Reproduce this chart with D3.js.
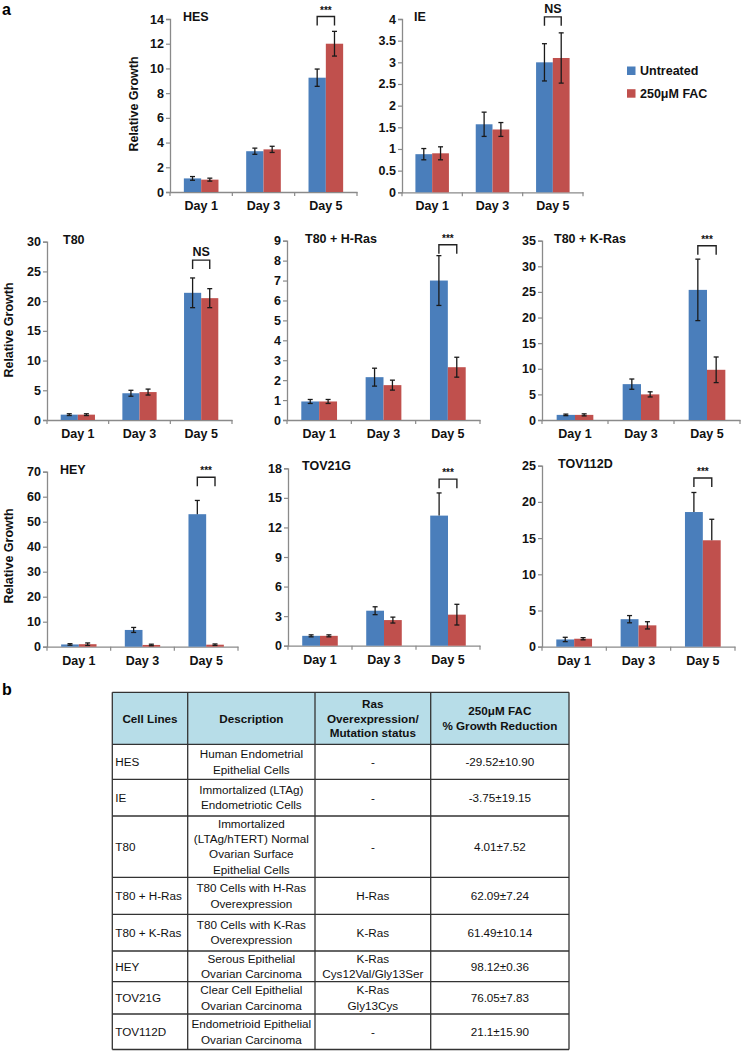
<!DOCTYPE html>
<html>
<head>
<meta charset="utf-8">
<script src="https://cdn.jsdelivr.net/npm/d3@7"></script>
<style>
  html, body { margin: 0; padding: 0; background: #fff; }
  svg { display: block; font-family: "Liberation Sans", Arial, Helvetica, sans-serif; }
</style>
</head>
<body>
<svg id="chart" width="741" height="1051"></svg>
<script>
// ---------------- DATA ----------------
const days = ["Day 1", "Day 3", "Day 5"];
const seriesNames = ["Untreated", "250\u03bcM FAC"];
const cellLines = ["HES", "IE", "T80", "T80 + H-Ras", "T80 + K-Ras", "HEY", "TOV21G", "TOV112D"];

const untreated    = [[1.1, 3.3, 9.25], [0.88, 1.57, 3.0], [0.9, 4.5, 21.4], [0.93, 2.15, 7.0], [1.0, 7.0, 25.4], [0.9, 6.7, 53.0], [1.0, 3.55, 13.2], [1.0, 3.8, 18.6]];
const untreatedErr = [[0.15, 0.25, 0.7], [0.13, 0.28, 0.43], [0.15, 0.5, 2.5], [0.1, 0.45, 1.25], [0.15, 1.0, 6.0], [0.3, 1.0, 5.5], [0.1, 0.4, 2.3], [0.3, 0.5, 2.7]];
const fac          = [[1.0, 3.45, 12.0], [0.9, 1.45, 3.1], [0.9, 4.7, 20.5], [0.93, 1.75, 2.65], [1.0, 5.0, 9.8], [1.0, 0.7, 0.8], [1.0, 2.6, 3.15], [1.1, 2.95, 14.7]];
const facErr       = [[0.12, 0.25, 1.0], [0.15, 0.16, 0.58], [0.15, 0.5, 1.6], [0.1, 0.25, 0.5], [0.2, 0.5, 2.5], [0.5, 0.3, 0.3], [0.1, 0.3, 1.05], [0.15, 0.5, 2.9]];
// error bars drawn only in the plus direction
const untreatedPlusOnly = [[0,0,0],[0,0,0],[0,0,0],[0,0,0],[0,0,0],[0,0,1],[0,0,1],[0,0,1]];
const facPlusOnly       = [[0,0,0],[0,0,0],[0,0,0],[0,0,0],[0,0,0],[0,0,0],[0,0,0],[0,0,1]];

const yMax  = [14, 4, 30, 9, 35, 70, 18, 25];
const yStep = [2, 0.5, 5, 1, 5, 10, 3, 5];
const sigLabels = ["***", "NS", "NS", "***", "***", "***", "***", "***"];
const sigLevel  = [14.2, 4.05, 26.9, 8.8, 34.0, 67.8, 16.9, 23.3];

// Table
const tableHeaders = [["Cell Lines"], ["Description"], ["Ras", "Overexpression/", "Mutation status"], ["250\u03bcM FAC", "% Growth Reduction"]];
const tableCellLines = ["HES", "IE", "T80", "T80 + H-Ras", "T80 + K-Ras", "HEY", "TOV21G", "TOV112D"];
const tableDescriptions = [
  ["Human Endometrial", "Epithelial Cells"],
  ["Immortalized (LTAg)", "Endometriotic Cells"],
  ["Immortalized", "(LTAg/hTERT) Normal", "Ovarian Surface", "Epithelial Cells"],
  ["T80 Cells with H-Ras", "Overexpression"],
  ["T80 Cells with K-Ras", "Overexpression"],
  ["Serous Epithelial", "Ovarian Carcinoma"],
  ["Clear Cell Epithelial", "Ovarian Carcinoma"],
  ["Endometrioid Epithelial", "Ovarian Carcinoma"]
];
const tableRas = [["-"], ["-"], ["-"], ["H-Ras"], ["K-Ras"], ["K-Ras", "Cys12Val/Gly13Ser"], ["K-Ras", "Gly13Cys"], ["-"]];
const tableReduction = ["-29.52\u00b110.90", "-3.75\u00b119.15", "4.01\u00b17.52", "62.09\u00b17.24", "61.49\u00b110.14", "98.12\u00b10.36", "76.05\u00b17.83", "21.1\u00b115.90"];

// ---------------- LAYOUT ----------------
const panelLayout = [
  {x0: 170, x1: 357, yTop: 19,    yBot: 192,   titleDx: 13, ylab: true,  labX: 138, labY: 104},
  {x0: 402, x1: 583, yTop: 19,    yBot: 192.3, titleDx: 12},
  {x0: 47,  x1: 232, yTop: 241.7, yBot: 420,   titleDx: 16, ylab: true,  labX: 13, labY: 330},
  {x0: 287, x1: 480, yTop: 240.7, yBot: 420,   titleDx: 18},
  {x0: 542, x1: 740, yTop: 240.7, yBot: 420,   titleDx: 12},
  {x0: 47,  x1: 238, yTop: 471.7, yBot: 646.7, titleDx: 13, ylab: true,  labX: 13, labY: 556},
  {x0: 288, x1: 480, yTop: 468.3, yBot: 645.7, titleDx: 14},
  {x0: 542, x1: 735, yTop: 465.7, yBot: 646.7, titleDx: 16}
];
const colors = ["#4a7ebb", "#c0504d"];
const axisColor = "#8a8a8a";

const svg = d3.select("#chart");

// panel letters
svg.append("text").attr("x", 2).attr("y", 15).attr("font-size", 16).attr("font-weight", "bold").text("a");
svg.append("text").attr("x", 2).attr("y", 695).attr("font-size", 16).attr("font-weight", "bold").text("b");

cellLines.forEach((name, i) => {
  const L = panelLayout[i];
  const g = svg.append("g");
  const x = d3.scaleBand().domain(days).range([L.x0, L.x1]).padding(0);
  const bw = x.bandwidth();
  const cluster = bw / 1.8;
  const xs = d3.scaleBand().domain(seriesNames).range([(bw - cluster) / 2, (bw + cluster) / 2]).padding(0);
  const y = d3.scaleLinear().domain([0, yMax[i]]).range([L.yBot, L.yTop]);
  const ticks = d3.range(0, yMax[i] + yStep[i] / 2, yStep[i]);

  // y axis
  const ya = g.append("g").attr("transform", `translate(${L.x0},0)`)
    .call(d3.axisLeft(y).tickValues(ticks).tickSize(4).tickPadding(2).tickFormat(d => String(+d.toFixed(2))));
  ya.select(".domain").attr("stroke", axisColor).attr("stroke-width", 1.3);
  ya.selectAll(".tick line").attr("stroke", axisColor).attr("stroke-width", 1.2);
  ya.selectAll(".tick text").attr("font-size", 12.5).attr("font-weight", "bold").attr("fill", "#111")
    .attr("font-family", "Liberation Sans, Arial, sans-serif");

  // x axis
  const xa = g.append("g").attr("transform", `translate(0,${L.yBot})`)
    .call(d3.axisBottom(x).tickSize(0).tickPadding(9));
  xa.select(".domain").attr("stroke", axisColor).attr("stroke-width", 1.3);
  xa.selectAll(".tick text").attr("font-size", 12.5).attr("font-weight", "bold").attr("fill", "#111")
    .attr("font-family", "Liberation Sans, Arial, sans-serif");
  // category boundary ticks
  const bounds = days.map(d => x(d)).concat([x(days[days.length - 1]) + bw]);
  g.selectAll(".ctick").data(bounds).enter().append("line")
    .attr("x1", d => d).attr("x2", d => d).attr("y1", L.yBot).attr("y2", L.yBot + 4)
    .attr("stroke", axisColor).attr("stroke-width", 1.2);

  // bars
  const vals = [untreated[i], fac[i]];
  const errs = [untreatedErr[i], facErr[i]];
  const plus = [untreatedPlusOnly[i], facPlusOnly[i]];
  const recs = [];
  days.forEach((d, j) => {
    seriesNames.forEach((s, k) => {
      recs.push({day: d, s, k, v: vals[k][j], e: errs[k][j], p: plus[k][j]});
    });
  });
  g.selectAll(".bar").data(recs).enter().append("rect")
    .attr("x", d => x(d.day) + xs(d.s))
    .attr("width", xs.bandwidth())
    .attr("y", d => y(d.v))
    .attr("height", d => L.yBot - y(d.v))
    .attr("fill", d => colors[d.k]);

  // error bars
  const eg = g.selectAll(".err").data(recs).enter().append("g")
    .attr("stroke", "#1a1a1a").attr("stroke-width", 1.3);
  const cx = d => x(d.day) + xs(d.s) + xs.bandwidth() / 2;
  eg.append("line").attr("x1", cx).attr("x2", cx)
    .attr("y1", d => y(d.v + d.e)).attr("y2", d => d.p ? y(d.v) : y(Math.max(0, d.v - d.e)));
  eg.append("line").attr("x1", d => cx(d) - 2.5).attr("x2", d => cx(d) + 2.5)
    .attr("y1", d => y(d.v + d.e)).attr("y2", d => y(d.v + d.e));
  eg.filter(d => !d.p).append("line").attr("x1", d => cx(d) - 2.5).attr("x2", d => cx(d) + 2.5)
    .attr("y1", d => y(Math.max(0, d.v - d.e))).attr("y2", d => y(Math.max(0, d.v - d.e)));

  // significance bracket on Day 5
  const last = days[days.length - 1];
  const bx1 = x(last) + xs(seriesNames[0]) + xs.bandwidth() / 2;
  const bx2 = x(last) + xs(seriesNames[1]) + xs.bandwidth() / 2;
  const by = y(sigLevel[i]);
  g.append("path")
    .attr("d", `M${bx1},${by + 9}V${by}H${bx2}V${by + 9}`)
    .attr("fill", "none").attr("stroke", "#222").attr("stroke-width", 1.4);
  g.append("text").attr("x", (bx1 + bx2) / 2).attr("y", sigLabels[i] === "NS" ? by - 4 : by - 3)
    .attr("text-anchor", "middle").attr("font-weight", "bold")
    .attr("font-size", sigLabels[i] === "NS" ? 12.5 : 10).attr("fill", "#111")
    .text(sigLabels[i]);

  // title
  g.append("text").attr("x", L.x0 + L.titleDx).attr("y", L.yTop + 2)
    .attr("font-size", 12.5).attr("font-weight", "bold").attr("fill", "#111").text(name);

  // y label
  if (L.ylab) {
    g.append("text").attr("transform", `translate(${L.labX},${L.labY}) rotate(-90)`)
      .attr("text-anchor", "middle").attr("font-size", 12.5).attr("font-weight", "bold").attr("fill", "#111")
      .text("Relative Growth");
  }
});

// legend
const leg = svg.append("g");
seriesNames.forEach((s, k) => {
  leg.append("rect").attr("x", 627).attr("y", 66.5 + k * 22.7).attr("width", 8.5).attr("height", 8.5).attr("fill", colors[k]);
  leg.append("text").attr("x", 640).attr("y", 75 + k * 22.7).attr("font-size", 12.5).attr("font-weight", "bold")
    .attr("fill", "#111").text(s);
});

// ---------------- TABLE ----------------
const colX = [112.3, 187.7, 315, 430.7, 569];
const rowY = [692.3, 744.3, 779.3, 816, 877.3, 914.3, 951, 981.7, 1014, 1049.5];
const tg = svg.append("g");
tg.append("rect").attr("x", colX[0]).attr("y", rowY[0]).attr("width", colX[4] - colX[0]).attr("height", rowY[1] - rowY[0])
  .attr("fill", "#b7dde8");

function lines(cellLinesArr, cx, cy, lh, anchor, bold) {
  const n = cellLinesArr.length;
  cellLinesArr.forEach((t, m) => {
    tg.append("text").attr("x", cx).attr("y", cy + (m - (n - 1) / 2) * lh + 4.2)
      .attr("text-anchor", anchor).attr("font-size", 11.7).attr("font-weight", bold ? "bold" : "normal")
      .attr("fill", "#111").text(t);
  });
}
// header
tableHeaders.forEach((h, c) => {
  lines(h, (colX[c] + colX[c + 1]) / 2, (rowY[0] + rowY[1]) / 2, 14.6, "middle", true);
});
// body
tableCellLines.forEach((cl, r) => {
  const cy = (rowY[r + 1] + rowY[r + 2]) / 2;
  lines([cl], colX[0] + 3, cy, 15, "start", false);
  lines(tableDescriptions[r], (colX[1] + colX[2]) / 2, cy, 15.2, "middle", false);
  lines(tableRas[r], (colX[2] + colX[3]) / 2, cy, 15.2, "middle", false);
  lines([tableReduction[r]], (colX[3] + colX[4]) / 2, cy, 15, "middle", false);
});
// grid lines
rowY.forEach(yv => tg.append("line").attr("x1", colX[0]).attr("x2", colX[4]).attr("y1", yv).attr("y2", yv)
  .attr("stroke", "#333").attr("stroke-width", 1.3));
colX.forEach(xv => tg.append("line").attr("x1", xv).attr("x2", xv).attr("y1", rowY[0]).attr("y2", rowY[rowY.length - 1])
  .attr("stroke", "#333").attr("stroke-width", 1.3));
</script>
</body>
</html>
